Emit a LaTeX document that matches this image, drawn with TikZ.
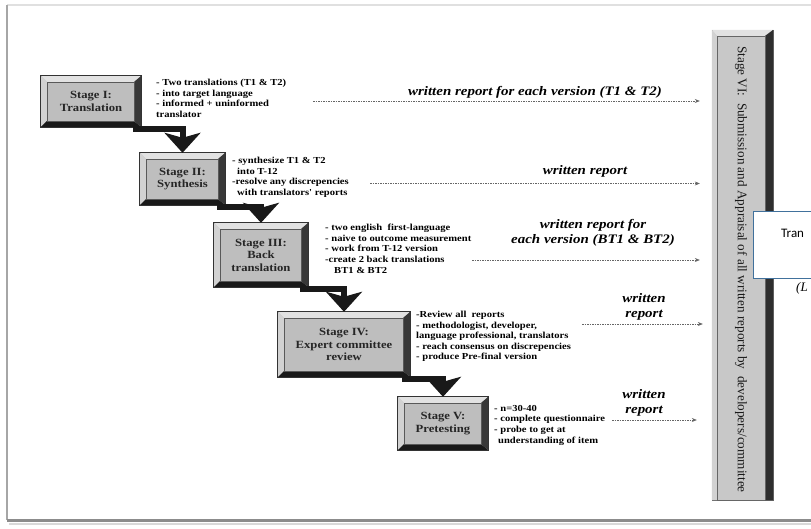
\documentclass[tikz,border=0pt]{standalone}
\usepackage{fontspec}
\setmainfont{Liberation Serif}
\newfontfamily\scanfont{Liberation Serif}[FakeStretch=1.15]
\newfontfamily\carlito{Carlito}
\usetikzlibrary{arrows.meta}
\definecolor{facegray}{HTML}{BEBEBE}
\definecolor{bevellight}{HTML}{E2E2E2}
\definecolor{bevelside}{HTML}{D2D2D2}
\definecolor{boxblue}{HTML}{41719C}
\begin{document}
\begin{tikzpicture}[x=1pt,y=-1pt,
    stage/.style={fill=facegray,draw=black!80,inner sep=0,align=center,
        text=black!85,font=\scanfont\bfseries\fontsize{11}{12.5}\selectfont},
    desc/.style={anchor=north west,align=left,inner sep=0,
        font=\scanfont\bfseries\fontsize{9.2}{10.6}\selectfont},
    wr/.style={align=center,inner sep=0,
        font=\scanfont\bfseries\itshape\fontsize{13}{15}\selectfont},
    flow/.style={line width=6pt,draw=black!90,
        -{Stealth[length=20pt,width=36pt,inset=5pt]}},
    report/.style={draw=black!60,line width=0.6pt,dash pattern=on 1.5pt off 1pt,
        shorten >=12pt,-{Stealth[length=5pt,width=4pt]}}]
\useasboundingbox (0,0) rectangle (811,529);

% frame of the scan
\draw[black!12,line width=1.5pt] (7,5) -- (811,5);
\draw[black!35,line width=2pt] (7,5) -- (7,520);
\draw[black!45,line width=3pt] (7,520) -- (811,520);
\draw[black!15,line width=2pt] (9,523.5) -- (811,523.5);

% stages
\node[stage,minimum width=100,minimum height=51] at (91,101.5) (s1) {Stage I:\\Translation};
\node[stage,minimum width=85,minimum height=52] at (182.5,179) (s2) {Stage II:\\Synthesis};
\node[stage,minimum width=94,minimum height=64] at (261,255) (s3) {Stage III:\\Back\\translation};
\node[stage,minimum width=132,minimum height=65] at (344,344.5) (s4) {Stage IV:\\Expert committee\\review};
\node[stage,minimum width=90,minimum height=53] at (443,423.5) (s5) {Stage V:\\Pretesting};

\foreach \s in {s1,s2,s3,s4,s5}{
    \fill[bevellight] (\s.north west) -- (\s.north east) -- ([xshift=-7pt,yshift=-6pt]\s.north east) -- ([xshift=6pt,yshift=-6pt]\s.north west) -- cycle;
    \fill[bevelside] (\s.north west) -- ([xshift=6pt,yshift=-6pt]\s.north west) -- ([xshift=6pt,yshift=6pt]\s.south west) -- (\s.south west) -- cycle;
    \fill[black!90] (\s.south west) -- ([xshift=6pt,yshift=6pt]\s.south west) -- ([xshift=-7pt,yshift=6pt]\s.south east) -- (\s.south east) -- cycle;
    \fill[black!78] (\s.south east) -- ([xshift=-7pt,yshift=6pt]\s.south east) -- ([xshift=-7pt,yshift=-6pt]\s.north east) -- (\s.north east) -- cycle;
    \draw[black!65,line width=0.5pt] ([xshift=6pt,yshift=-6pt]\s.north west) rectangle ([xshift=-7pt,yshift=6pt]\s.south east);
    \draw[black!80,line width=0.7pt] (\s.north west) rectangle (\s.south east);
}

\draw[flow] ([xshift=-8pt,yshift=-2pt]s1.south east) -| (s2.north);
\draw[flow] ([xshift=-8pt,yshift=-2pt]s2.south east) -| (s3.north);
\draw[flow] ([xshift=-8pt,yshift=-2pt]s3.south east) -| (s4.north);
\draw[flow] ([xshift=-8pt,yshift=-2pt]s4.south east) -| (s5.north);

% what each stage does
\node[desc] at (156,79) (d1) {- Two translations (T1 \& T2)\\- into target language\\- informed + uninformed\\translator};
\node[desc] at (232,157) (d2) {- synthesize T1 \& T2\\\hspace*{5pt}into T-12\\-resolve any discrepencies\\\hspace*{5pt}with translators' reports};
\node[desc] at (325,224) (d3) {- two english\ \ first-language\\- naive to outcome measurement\\- work from T-12 version\\-create 2 back translations\\\hspace*{9pt}BT1 \& BT2};
\node[desc] at (416,311) (d4) {-Review all\ \ reports\\- methodologist, developer,\\language professional, translators\\- reach consensus on discrepencies\\- produce Pre-final version};
\node[desc] at (494,405) (d5) {- n=30-40\\- complete questionnaire\\- probe to get at\\\hspace*{4pt}understanding of item};

% stage VI bar
\node[fill=facegray!85,draw=black!60,minimum width=61,minimum height=470,inner sep=0] at (742.5,265) (vi) {};
\fill[bevellight] (vi.north west) -- (vi.north east) -- ([xshift=-8pt,yshift=-6pt]vi.north east) -- ([xshift=5pt,yshift=-6pt]vi.north west) -- cycle;
\fill[bevelside] (vi.north west) -- ([xshift=5pt,yshift=-6pt]vi.north west) -- ([xshift=5pt]vi.south west) -- (vi.south west) -- cycle;
\fill[black!82] (vi.north east) -- ([xshift=-8pt,yshift=-6pt]vi.north east) -- ([xshift=-8pt]vi.south east) -- (vi.south east) -- cycle;
\draw[black!60,line width=0.5pt] ([xshift=5pt]vi.south west) -- ([xshift=5pt,yshift=-6pt]vi.north west) -- ([xshift=-8pt,yshift=-6pt]vi.north east) -- ([xshift=-8pt]vi.south east);
\node[rotate=-90,anchor=west,inner sep=0,text=black!90,font=\fontsize{13.2}{15}\selectfont] at (741,46) (vitext) {Stage VI:\ \ Submission and Appraisal of all written reports by\ \ developers/committee};

% written reports
\node[wr] at (535,92) (w1) {written report for each version (T1 \& T2)};
\node[wr] at (585,171) (w2) {written report};
\node[wr] at (593,232.5) (w3) {written report for\\each version (BT1 \& BT2)};
\node[wr] at (644,306.5) (w4) {written\\report};
\node[wr] at (644,402.5) (w5) {written\\report};

\coordinate (r1) at (313,101);
\coordinate (r2) at (370,183.5);
\coordinate (r3) at (472,260);
\coordinate (r4) at (582,324);
\coordinate (r5) at (612,420);
\draw[report] (r1) -- (r1 -| vi.west);
\draw[report] (r2) -- (r2 -| vi.west);
\draw[report] (r3) -- (r3 -| vi.west);
\draw[report,shorten >=9pt] (r4) -- (r4 -| vi.west);
\draw[report,shorten >=15pt] (r5) -- (r5 -| vi.west);

% box lying over the picture
\node[draw=boxblue,line width=1.3pt,fill=white,anchor=north west,minimum width=70,minimum height=67] at (753,211) (tr) {};
\node[anchor=west,inner sep=0,font=\carlito\fontsize{13}{15}\selectfont] at (781,233) (trtext) {Tran};
\node[anchor=west,inner sep=0,font=\itshape\fontsize{13}{15}\selectfont] at (796,288) (lt) {(L};
\end{tikzpicture}
\end{document}
